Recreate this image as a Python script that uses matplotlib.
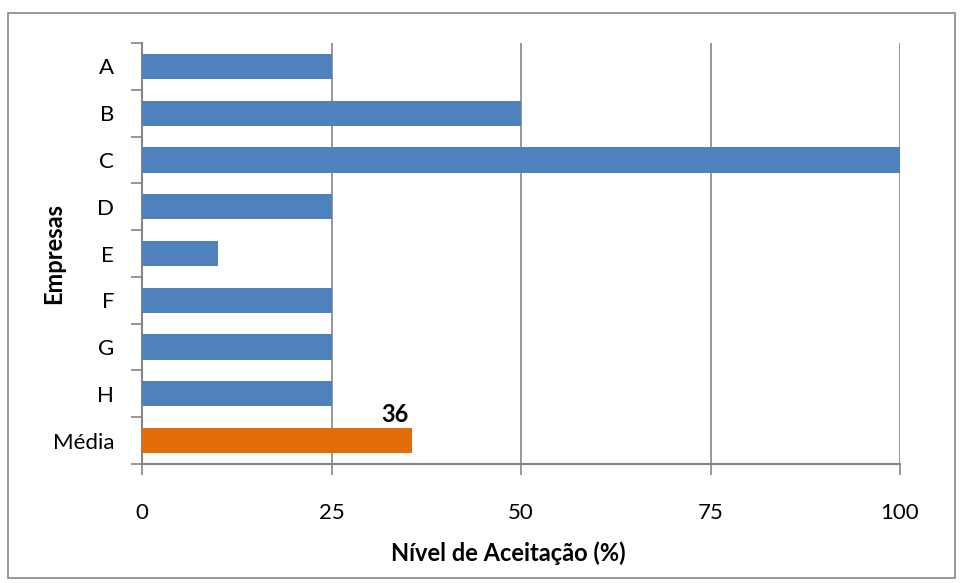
import matplotlib
matplotlib.use("Agg")
import matplotlib.pyplot as plt
from matplotlib.patches import Rectangle

categories = ["A", "B", "C", "D", "E", "F", "G", "H", "Média"]
values = [25, 50, 100, 25, 10, 25, 25, 25, 35.625]
mean_label = "36"
xticks = [0, 25, 50, 75, 100]

plt.rcParams['font.family'] = ['Lato', 'DejaVu Sans']

W, H = 963, 583
fig = plt.figure(figsize=(W/100, H/100), dpi=100)
fig.patch.set_facecolor("white")
fig.add_artist(Rectangle((8/W, 1 - 578/H), (955-8)/W, (578-13)/H, transform=fig.transFigure,
                         fill=False, edgecolor="#868686", linewidth=1.2))

ax = fig.add_axes([142/W, 1 - 464/H, (900-142)/W, (464-43)/H])
n = len(categories)
ypos = list(range(n))
colors = ["#4F81BD"] * (n - 1) + ["#E36C0A"]
ax.barh(ypos, values, height=0.54, color=colors, zorder=3)
ax.set_ylim(n - 0.5, -0.5)
ax.set_xlim(0, 100)
ax.set_xticks(xticks)
ax.set_xticklabels([str(t) for t in xticks])
ax.set_yticks(ypos)
ax.set_yticklabels(categories)
ax.set_yticks([i - 0.5 for i in range(n + 1)], minor=True)
ax.tick_params(axis='y', which='major', length=0, pad=20, labelsize=16)
ax.tick_params(axis='y', which='minor', length=8, color="#868686", width=1.2)
ax.tick_params(axis='x', length=8, color="#868686", width=1.2, labelsize=16, pad=20)
ax.grid(axis='x', color="#868686", linewidth=1.2, zorder=0)
for s in ["top", "right"]:
    ax.spines[s].set_visible(False)
for s in ["left", "bottom"]:
    ax.spines[s].set_color("#868686")
    ax.spines[s].set_linewidth(1.5)

ax.text(values[-1] - 2.2, n - 1 - 0.31, mean_label, ha="center", va="bottom",
        fontsize=17, fontweight="bold", zorder=4)

fig.text(508/W, 1 - 553/H, "Nível de Aceitação (%)", fontsize=17, fontweight="bold",
         ha="center", va="center")
fig.text(54/W, 1 - 253/H, "Empresas", fontsize=17, fontweight="bold",
         ha="center", va="center", rotation=90)

fig.savefig("out.png", dpi=100)
